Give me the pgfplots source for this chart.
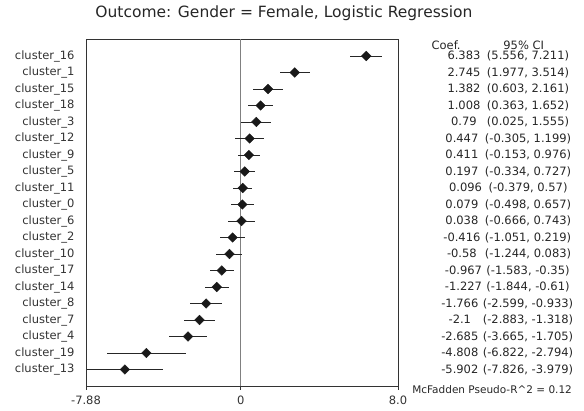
\documentclass[border=0pt]{standalone}
\usepackage{pgfplots}
\usepackage{pgfplotstable}
\pgfplotsset{compat=1.18}
\usepackage{fontspec}
\setmainfont{DejaVu Sans}

% cluster coefficients with 95% CI, y = row position (top row = 19)
\pgfplotstableread{
y  c      lo      hi
19 6.383  5.556   7.211
18 2.745  1.977   3.514
17 1.382  0.603   2.161
16 1.008  0.363   1.652
15 0.79   0.025   1.555
14 0.447  -0.305  1.199
13 0.411  -0.153  0.976
12 0.197  -0.334  0.727
11 0.096  -0.379  0.57
10 0.079  -0.498  0.657
9  0.038  -0.666  0.743
8  -0.416 -1.051  0.219
7  -0.58  -1.244  0.083
6  -0.967 -1.583  -0.35
5  -1.227 -1.844  -0.61
4  -1.766 -2.599  -0.933
3  -2.1   -2.883  -1.318
2  -2.685 -3.665  -1.705
1  -4.808 -6.822  -2.794
0  -5.902 -7.826  -3.979
}\coefs

\newcommand\tabrow[3]{\node[font=\fontsize{11.5}{13}\selectfont, text=black!85] at (axis cs:13.55,#1) {\makebox[38pt][c]{#2}\hspace{4pt}#3};}

\begin{document}
\begin{tikzpicture}
\path[use as bounding box] (-86pt,-25pt) rectangle (498pt,386pt);
\begin{axis}[
    scale only axis,
    width=312pt, height=346.5pt,
    xmin=-7.88, xmax=8.0,
    ymin=-1, ymax=20,
    clip=false,
    axis line style={black!80, line width=0.8pt},
    xtick={-7.88,0,8},
    xticklabels={-7.88,0,8.0},
    ytick={0,...,19},
    yticklabels={cluster\_13,cluster\_19,cluster\_4,cluster\_7,cluster\_8,cluster\_14,cluster\_17,cluster\_10,cluster\_2,cluster\_6,cluster\_0,cluster\_11,cluster\_5,cluster\_9,cluster\_12,cluster\_3,cluster\_18,cluster\_15,cluster\_1,cluster\_16},
    tick align=outside,
    xtick pos=bottom,
    x tick style={black!80, line width=0.8pt},
    major tick length=4pt,
    ytick style={draw=none},
    ticklabel style={font=\fontsize{11.5}{13}\selectfont, text=black!80},
    yticklabel style={xshift=-4pt},
    xticklabel style={yshift=-2pt},
    /pgf/number format/assume math mode=true,
]
\draw[gray, line width=0.8pt] (axis cs:0,-1) -- (axis cs:0,20);

\addplot[only marks, mark=none,
    error bars/.cd, x dir=both, x explicit, error mark=none,
    error bar style={black!85, line width=0.9pt}]
    table[x=c, y=y,
      x error plus expr=\thisrow{hi}-\thisrow{c},
      x error minus expr=\thisrow{c}-\thisrow{lo}] {\coefs};

\addplot[only marks, mark=square*, mark size=3.4pt,
    mark options={rotate=45, fill=black!90, draw=black!90}]
    table[x=c, y=y] {\coefs};

% table on the right
\node[font=\fontsize{11.5}{13}\selectfont, text=black!85] at (axis cs:10.45,19.66) {Coef.};
\node[font=\fontsize{11.5}{13}\selectfont, text=black!85] at (axis cs:14.4,19.66) {95\% CI};
\tabrow{19}{6.383}{(5.556, 7.211)}
\tabrow{18}{2.745}{(1.977, 3.514)}
\tabrow{17}{1.382}{(0.603, 2.161)}
\tabrow{16}{1.008}{(0.363, 1.652)}
\tabrow{15}{0.79}{(0.025, 1.555)}
\tabrow{14}{0.447}{(-0.305, 1.199)}
\tabrow{13}{0.411}{(-0.153, 0.976)}
\tabrow{12}{0.197}{(-0.334, 0.727)}
\tabrow{11}{0.096}{(-0.379, 0.57)}
\tabrow{10}{0.079}{(-0.498, 0.657)}
\tabrow{9}{0.038}{(-0.666, 0.743)}
\tabrow{8}{-0.416}{(-1.051, 0.219)}
\tabrow{7}{-0.58}{(-1.244, 0.083)}
\tabrow{6}{-0.967}{(-1.583, -0.35)}
\tabrow{5}{-1.227}{(-1.844, -0.61)}
\tabrow{4}{-1.766}{(-2.599, -0.933)}
\tabrow{3}{-2.1}{(-2.883, -1.318)}
\tabrow{2}{-2.685}{(-3.665, -1.705)}
\tabrow{1}{-4.808}{(-6.822, -2.794)}
\tabrow{0}{-5.902}{(-7.826, -3.979)}
\node[font=\fontsize{10.5}{12}\selectfont, text=black!85] at (axis cs:12.79,-1.21) {McFadden Pseudo-R\^{}2 = 0.12};
\end{axis}
\node[font=\fontsize{15.5}{18}\selectfont, text=black!85] at (198pt,373pt) {Outcome: Gender = Female, Logistic Regression};
\end{tikzpicture}
\end{document}
